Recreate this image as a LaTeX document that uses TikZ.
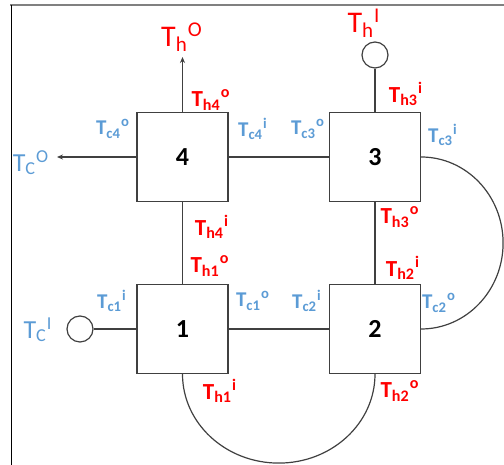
\documentclass[tikz,border=0pt]{standalone}
\usepackage{fontspec}
\setmainfont{Carlito}
\usepackage{tikz}
\usetikzlibrary{arrows.meta}
\usepackage{xcolor}

\definecolor{bleu}{HTML}{5B9BD5}
\definecolor{rouge}{HTML}{FF0000}
\definecolor{trait}{HTML}{404040}

% T indice exposant
\newcommand{\temp}[2]{T\textsubscript{#1}\textsuperscript{#2}}

\tikzset{
  boite/.style={draw=trait, line width=0.6pt, minimum width=45.5pt, minimum height=44.5pt, inner sep=0pt, font=\bfseries\fontsize{13}{15}\selectfont},
  bouchon/.style={draw=trait, line width=0.6pt, circle, minimum size=13pt, inner sep=0pt},
  froid/.style={text=bleu, inner sep=0pt, font=\bfseries\fontsize{10.5}{12}\selectfont},
  chaud/.style={text=rouge, inner sep=0pt, font=\bfseries\fontsize{11.5}{13}\selectfont},
  bord/.style={text=#1, inner sep=0pt, font=\fontsize{15}{17}\selectfont},
}

\begin{document}
\begin{tikzpicture}[x=0.5pt, y=0.5pt] % 1 unité = 1 pixel de l'image
\useasboundingbox (0,0) rectangle (504,465);

% Le cadre
\draw[gray, line width=0.75pt] (10,460) -- (504,460);
\draw[black, line width=0.5pt] (11,460) -- (11,0);

% Les quatre échangeurs
\node[boite] (b4) at (182.5,308) {4};
\node[boite] (b3) at (375,308) {3};
\node[boite] (b1) at (182.5,136) {1};
\node[boite] (b2) at (375,136) {2};

% Les entrées (cercles) et les sorties
\node[bouchon] (entreeH) at (375,410) {};
\node[bouchon] (entreeC) at (80,136) {};
\coordinate (sortieH) at (182.5,408);
\coordinate (sortieC) at (57,308);

% Les liaisons
\begin{scope}[draw=trait, line width=0.6pt]
\draw (b4) -- (b3);
\draw (b1) -- (b2);
\draw (b4) -- (b1);
\draw (b3) -- (b2);
\draw (entreeH) -- (b3);
\draw (entreeC) -- (b1);
\draw[-{Stealth[length=3pt, width=2.5pt]}] (b4) -- (sortieH);
\draw[-{Stealth[length=3pt, width=2.5pt]}] (b4) -- (sortieC);
% Les boucles
\draw (b1.south) arc[start angle=180, end angle=360, x radius=96.25, y radius=89];
\draw (b3.east) arc[start angle=90, end angle=-90, x radius=82, y radius=86];
\end{scope}

% Entrées et sorties globales
\node[bord=rouge] (thO) at (182,428) {\temp{h}{O}};
\node[bord=rouge] (thI) at (364,442) {\temp{h}{I}};
\node[bord=bleu, font=\fontsize{13}{15}\selectfont] (tcO) at (31,302) {\temp{C}{O}};
\node[bord=bleu, font=\fontsize{13}{15}\selectfont] (tcI) at (38,135) {\temp{C}{I}};

% Côté chaud
\node[chaud] (th4o) at (211,365) {\temp{h4}{o}};
\node[chaud] (th3i) at (406,371) {\temp{h3}{i}};
\node[chaud] (th4i) at (212,238) {\temp{h4}{i}};
\node[chaud] (th3o) at (400,248) {\temp{h3}{o}};
\node[chaud] (th1o) at (210,199) {\temp{h1}{o}};
\node[chaud] (th2i) at (403,197) {\temp{h2}{i}};
\node[chaud] (th1i) at (220,74) {\temp{h1}{i}};
\node[chaud] (th2o) at (400,74) {\temp{h2}{o}};

% Côté froid
\node[froid] (tc4o) at (113,336) {\temp{c4}{o}};
\node[froid] (tc4i) at (253,336) {\temp{c4}{i}};
\node[froid] (tc3o) at (308,336) {\temp{c3}{o}};
\node[froid] (tc3i) at (443,330) {\temp{c3}{i}};
\node[froid] (tc1i) at (112,164) {\temp{c1}{i}};
\node[froid] (tc1o) at (253,164) {\temp{c1}{o}};
\node[froid] (tc2i) at (307,164) {\temp{c2}{i}};
\node[froid] (tc2o) at (439,162) {\temp{c2}{o}};
\end{tikzpicture}
\end{document}
